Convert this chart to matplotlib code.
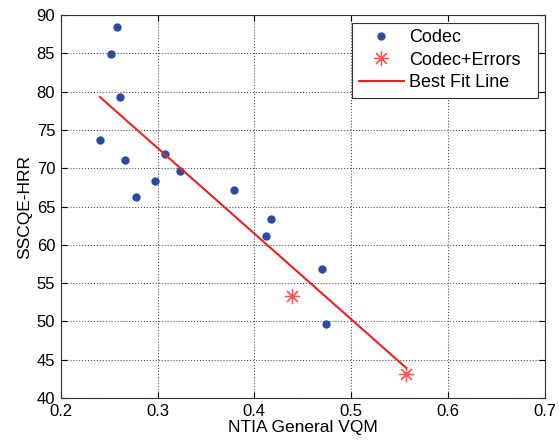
import matplotlib
matplotlib.use("Agg")
import matplotlib.pyplot as plt
from matplotlib.patches import Rectangle

plt.rcParams["font.family"] = ["Liberation Sans", "DejaVu Sans"]

# Codec points
codec_x = [0.2585, 0.2519, 0.2615, 0.2405, 0.2667, 0.3082, 0.3237, 0.2979,
           0.2780, 0.3794, 0.4168, 0.4124, 0.4698, 0.4745]
codec_y = [88.47, 84.9, 79.25, 73.64, 71.07, 71.85, 69.63, 68.29,
           66.24, 67.2, 63.4, 61.2, 56.9, 49.7]

# Codec+Errors points
err_x = [0.4388, 0.5567]
err_y = [53.35, 43.1]

# best fit line end points
fit_x = [0.2405, 0.5567]
fit_y = [79.3, 43.95]

fig = plt.figure(figsize=(5.59, 4.42), dpi=100)
ax = fig.add_axes([0.1086, 0.0995, 0.866, 0.8665])

ax.plot(codec_x, codec_y, "o", color="#2b4ba0", markersize=5, label="Codec")
# matlab style asterisk: 8 spokes
ax.plot(err_x, err_y, marker=(8, 2, 0), color="#ff5555", markersize=11,
        markeredgewidth=0.9, linestyle="none", label="Codec+Errors")
ax.plot(fit_x, fit_y, "-", color="#ee2020", linewidth=1.5, label="Best Fit Line")

ax.set_xlim(0.2, 0.7)
ax.set_ylim(40, 90)
ax.set_xticks([0.2, 0.3, 0.4, 0.5, 0.6, 0.7])
ax.set_xticklabels(["0.2", "0.3", "0.4", "0.5", "0.6", "0.7"])
ax.set_yticks(range(40, 91, 5))

ax.grid(True, linestyle=":", color="#555555", linewidth=0.8)
ax.tick_params(direction="in", top=True, right=True, labelsize=12, length=4)
ax.tick_params(axis="x", pad=4)
ax.tick_params(axis="y", pad=4)
for s in ax.spines.values():
    s.set_color("#333333")

ax.set_xlabel("NTIA General VQM", fontsize=12.5, labelpad=1)
ax.set_ylabel("SSCQE-HRR", fontsize=12.5, labelpad=3)

# legend without its own frame; box drawn below with more room on the right
leg = ax.legend(loc="upper right", fontsize=13, frameon=False, borderpad=0.35,
                handlelength=2.5, handletextpad=0.3, labelspacing=0.3,
                borderaxespad=0, bbox_to_anchor=(0.963, 0.979))
fig.canvas.draw()
bb = leg.get_window_extent().transformed(fig.transFigure.inverted())
box = Rectangle((bb.x0, bb.y0), bb.width + 0.019, bb.height,
                transform=fig.transFigure, facecolor="white",
                edgecolor="#333333", linewidth=0.8, zorder=4)
fig.add_artist(box)
leg.set_zorder(5)
leg.remove()
fig.add_artist(leg)

fig.savefig("out.png", dpi=100)
